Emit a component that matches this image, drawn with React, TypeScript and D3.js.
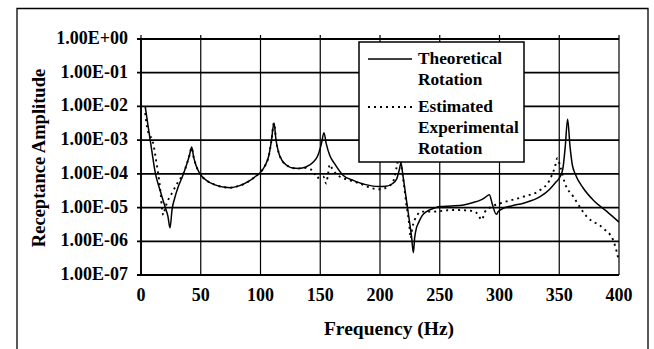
import React from "react";
import * as d3 from "d3";

// Frequency axis (Hz)
const freqTicks = [0, 50, 100, 150, 200, 250, 300, 350, 400];
// Amplitude decades
const ampTicks = [1e0, 1e-1, 1e-2, 1e-3, 1e-4, 1e-5, 1e-6, 1e-7];
const ampLabels = ["1.00E+00", "1.00E-01", "1.00E-02", "1.00E-03", "1.00E-04", "1.00E-05", "1.00E-06", "1.00E-07"];

// Theoretical rotation receptance
const theoFreq = [3.5, 6, 9, 12, 16, 20, 22.5, 24.3, 26, 28, 31, 35, 38, 40.5, 42.4, 44, 46, 49, 55, 62, 70, 75, 82, 90, 96, 100, 104, 107, 109, 111.3, 113, 115, 118, 122, 127, 132, 138, 144, 148, 151, 153.1, 155, 158, 162, 169, 178, 188, 199, 205, 210, 214, 216, 217.6, 219, 221, 223, 225, 226.5, 227.9, 229, 230.5, 232, 235, 239, 245, 250, 260, 270, 278, 284, 288, 291.5, 294, 297.3, 299, 301.5, 310, 320, 334, 342, 347, 350.6, 353, 355, 357, 359, 361, 363.2, 370, 378.5, 390, 400];
const theoAmp = [1.0e-2, 2.5e-3, 5.0e-4, 1.05e-4, 3.2e-5, 1.1e-5, 5.6e-6, 2.5e-6, 8.9e-6, 1.8e-5, 4.0e-5, 8.9e-5, 1.8e-4, 3.5e-4, 6.3e-4, 3.2e-4, 1.8e-4, 1.05e-4, 6.3e-5, 4.7e-5, 4.0e-5, 3.9e-5, 4.4e-5, 6.0e-5, 8.5e-5, 1.12e-4, 1.8e-4, 3.5e-4, 8.9e-4, 3.2e-3, 1.0e-3, 4.5e-4, 2.5e-4, 1.8e-4, 1.48e-4, 1.45e-4, 1.6e-4, 2.2e-4, 3.5e-4, 7.9e-4, 1.66e-3, 7.9e-4, 3.5e-4, 2.0e-4, 9.1e-5, 6.3e-5, 4.8e-5, 4.2e-5, 4.3e-5, 5.0e-5, 7.1e-5, 1.26e-4, 2.1e-4, 1.0e-4, 3.2e-5, 1.0e-5, 3.2e-6, 1.26e-6, 4.6e-7, 1.26e-6, 2.5e-6, 3.4e-6, 5.6e-6, 7.6e-6, 9.5e-6, 1.07e-5, 1.12e-5, 1.2e-5, 1.41e-5, 1.66e-5, 2.0e-5, 2.4e-5, 1.26e-5, 6.3e-6, 7.6e-6, 8.9e-6, 1.12e-5, 1.35e-5, 2.1e-5, 3.5e-5, 5.6e-5, 8.1e-5, 1.41e-4, 6.3e-4, 4.2e-3, 6.5e-4, 1.8e-4, 1.02e-4, 3.8e-5, 1.66e-5, 7.6e-6, 3.7e-6];

// Estimated experimental rotation receptance
const expFreq = [3.5, 5, 7, 9, 10.5, 12, 13.5, 15, 16.5, 17.5, 18.7, 20, 21.5, 25.7, 31.2, 35.4, 38, 40.5, 42.4, 44, 46, 49, 55, 62, 70, 75, 82, 90, 96, 100, 104, 107, 109, 111.3, 113, 115, 118, 122, 127, 132, 138, 140, 144, 147, 150, 152.6, 155, 156.5, 158, 160, 165, 173.6, 183, 194, 200, 207, 211, 214, 216, 218, 219.5, 222, 225, 225.6, 227, 229, 235, 245, 261, 278, 282, 285, 288, 292, 300.4, 320, 334, 342, 346.4, 348.4, 351, 354.8, 361.8, 373, 387, 395, 398, 400];
const expAmp = [6.3e-3, 2.5e-3, 1.41e-3, 1.12e-3, 7.1e-4, 3.5e-4, 1.6e-4, 7.1e-5, 2.5e-5, 1.0e-5, 6.0e-6, 8.9e-6, 1.32e-5, 2.6e-5, 5.9e-5, 1.02e-4, 1.8e-4, 3.5e-4, 6.0e-4, 3.2e-4, 1.8e-4, 1.05e-4, 6.3e-5, 4.7e-5, 4.0e-5, 3.9e-5, 4.4e-5, 6.0e-5, 8.5e-5, 1.12e-4, 1.8e-4, 3.5e-4, 8.9e-4, 3.2e-3, 1.0e-3, 4.5e-4, 2.5e-4, 1.8e-4, 1.48e-4, 1.45e-4, 1.5e-4, 1.41e-4, 1.26e-4, 7.6e-5, 7.9e-5, 8.3e-5, 5.2e-5, 1.0e-4, 1.9e-4, 1.41e-4, 8.9e-5, 6.6e-5, 5.2e-5, 3.7e-5, 3.5e-5, 4.2e-5, 5.9e-5, 1.62e-4, 3.2e-4, 1.6e-4, 6.6e-5, 1.32e-5, 2.1e-6, 1.23e-6, 2.5e-6, 4.3e-6, 7.6e-6, 7.6e-6, 8.5e-6, 7.9e-6, 6.3e-6, 4.3e-6, 7.6e-6, 1.0e-5, 1.32e-5, 2.1e-5, 3.3e-5, 6.6e-5, 1.62e-4, 2.9e-4, 1.6e-4, 5.2e-5, 2.1e-5, 5.4e-6, 2.4e-6, 1.1e-6, 5.0e-7, 2.5e-7];

const legendItems = [
  { lines: ["Theoretical", "Rotation"], dash: null },
  { lines: ["Estimated", "Experimental", "Rotation"], dash: "2,4" },
];

const W = 654;
const H = 349;
const plot = { left: 141, right: 619, top: 39, bottom: 275 };
const FONT = "'Liberation Serif', 'Times New Roman', serif";

export default function App() {
  const x = d3.scaleLinear().domain([0, 400]).range([plot.left, plot.right]);
  const y = d3.scaleLog().domain([1e-7, 1]).range([plot.bottom, plot.top]);

  const line = d3
    .line<[number, number]>()
    .x((d) => x(d[0]))
    .y((d) => y(d[1]))
    .curve(d3.curveMonotoneX);

  const theo = line(theoFreq.map((f, i) => [f, theoAmp[i]] as [number, number])) || "";
  const exp = line(expFreq.map((f, i) => [f, expAmp[i]] as [number, number])) || "";

  return (
    <svg
      width={W}
      height={H}
      style={{ position: "absolute", left: 0, top: 0, background: "#fff" }}
      fontFamily={FONT}
      fontWeight="bold"
    >
      <defs>
        <clipPath id="plotClip">
          <rect x={plot.left} y={plot.top - 1} width={plot.right - plot.left} height={plot.bottom - plot.top + 2} />
        </clipPath>
      </defs>
      <rect x={0} y={0} width={W} height={H} fill="#fff" />

      {/* outer frame */}
      <path d={`M17,${H} L17,8.5 L648,8.5 L648,${H}`} fill="none" stroke="#000" strokeWidth={1.3} />

      {/* vertical gridlines */}
      {freqTicks.map((t) => (
        <line key={`vx${t}`} x1={x(t)} x2={x(t)} y1={plot.top - 4} y2={plot.bottom} stroke="#000" strokeWidth={1.2} />
      ))}
      {/* horizontal gridlines with left ticks */}
      {ampTicks.map((t) => (
        <line key={`hy${t}`} x1={plot.left - 4} x2={plot.right} y1={y(t)} y2={y(t)} stroke="#000" strokeWidth={1.8} />
      ))}
      <line x1={plot.left} x2={plot.left} y1={plot.top} y2={plot.bottom} stroke="#000" strokeWidth={1.8} />

      {/* y tick labels */}
      {ampTicks.map((t, i) => (
        <text key={`yl${t}`} x={128} y={y(t) + 5} textAnchor="end" fontSize={18}>
          {ampLabels[i]}
        </text>
      ))}
      {/* x tick labels */}
      {freqTicks.map((t) => (
        <text key={`xl${t}`} x={x(t)} y={301} textAnchor="middle" fontSize={18}>
          {t}
        </text>
      ))}

      {/* axis titles */}
      <text x={389} y={335} textAnchor="middle" fontSize={19.5}>
        Frequency (Hz)
      </text>
      <text transform="translate(45,158) rotate(-90)" textAnchor="middle" fontSize={18.5}>
        Receptance Amplitude
      </text>

      {/* series */}
      <g clipPath="url(#plotClip)">
        <path d={exp} fill="none" stroke="#000" strokeWidth={1.9} strokeDasharray="2,4" />
        <path d={theo} fill="none" stroke="#000" strokeWidth={1.5} />
      </g>

      {/* legend */}
      <rect x={359} y={42} width={165} height={120} fill="#fff" stroke="#000" strokeWidth={1.5} />
      {legendItems.map((item, i) => {
        const base = i === 0 ? 64 : 112;
        const ly = base - 5;
        return (
          <g key={`lg${i}`}>
            <line
              x1={368}
              x2={412}
              y1={ly}
              y2={ly}
              stroke="#000"
              strokeWidth={item.dash ? 1.9 : 1.5}
              strokeDasharray={item.dash || undefined}
            />
            {item.lines.map((s, j) => (
              <text key={s + j} x={418} y={base + j * 21} fontSize={17.3}>
                {s}
              </text>
            ))}
          </g>
        );
      })}
    </svg>
  );
}
